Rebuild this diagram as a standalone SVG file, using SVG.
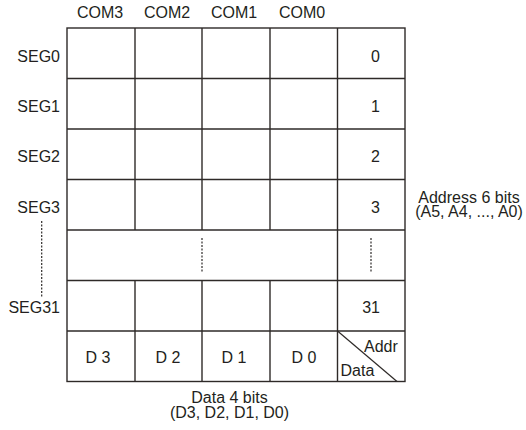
<svg xmlns="http://www.w3.org/2000/svg" width="526" height="430" viewBox="0 0 526 430">
<style>
text{font-family:"Liberation Sans",Arial,sans-serif;font-size:16px;fill:#231f20}
.c{text-anchor:middle}
.e{text-anchor:end}
.g{stroke:#2e2a28;stroke-width:1.4;fill:none}
.d{stroke:#2e2a28;stroke-width:1.2;stroke-dasharray:2 1.5;fill:none}
</style>
<rect width="526" height="430" fill="#fff"/>
<g id="com-labels">
<text class="c" x="100" y="18">COM3</text>
<text class="c" x="167" y="18">COM2</text>
<text class="c" x="234" y="18">COM1</text>
<text class="c" x="302" y="18">COM0</text>
</g>
<g id="seg-labels">
<text class="e" x="60" y="61.5">SEG0</text>
<text class="e" x="60" y="112">SEG1</text>
<text class="e" x="60" y="162">SEG2</text>
<text class="e" x="60" y="212.7">SEG3</text>
<text class="e" x="60" y="313.3">SEG31</text>
<line class="d" x1="41.7" y1="221" x2="41.7" y2="297"/>
</g>
<g id="grid">
<rect class="g" x="67" y="28" width="338" height="353.5"/>
<line class="g" x1="67" y1="78.5" x2="405" y2="78.5"/>
<line class="g" x1="67" y1="129" x2="405" y2="129"/>
<line class="g" x1="67" y1="179.5" x2="405" y2="179.5"/>
<line class="g" x1="67" y1="230" x2="405" y2="230"/>
<line class="g" x1="67" y1="280.5" x2="405" y2="280.5"/>
<line class="g" x1="67" y1="331" x2="405" y2="331"/>
<line class="g" x1="135" y1="28" x2="135" y2="230"/>
<line class="g" x1="202" y1="28" x2="202" y2="230"/>
<line class="g" x1="270" y1="28" x2="270" y2="230"/>
<line class="g" x1="135" y1="280.5" x2="135" y2="381.5"/>
<line class="g" x1="202" y1="280.5" x2="202" y2="381.5"/>
<line class="g" x1="270" y1="280.5" x2="270" y2="381.5"/>
<line class="g" x1="337.5" y1="28" x2="337.5" y2="381.5"/>
<line class="d" x1="202" y1="238" x2="202" y2="273"/>
</g>
<g id="addresses">
<text class="e" x="380" y="61.5">0</text>
<text class="e" x="380" y="112">1</text>
<text class="e" x="380" y="162">2</text>
<text class="e" x="380" y="212.7">3</text>
<line class="d" x1="371" y1="238" x2="371" y2="273"/>
<text class="e" x="380" y="313.3">31</text>
</g>
<g id="data-row">
<text class="c" x="98" y="363.3">D 3</text>
<text class="c" x="168" y="363.3">D 2</text>
<text class="c" x="234" y="363.3">D 1</text>
<text class="c" x="304" y="363.3">D 0</text>
</g>
<g id="corner">
<line x1="337.5" y1="331" x2="397" y2="381.5" stroke="#2e2a28" stroke-width="1.2"/>
<text x="364" y="351.7">Addr</text>
<text x="340.5" y="375.7">Data</text>
</g>
<g id="address-note">
<text class="c" x="469" y="202.5">Address 6 bits</text>
<text class="c" x="469" y="217">(A5, A4, ..., A0)</text>
</g>
<g id="data-note">
<text class="c" x="229.5" y="403.3">Data 4 bits</text>
<text class="c" x="229.5" y="417.8">(D3, D2, D1, D0)</text>
</g>
</svg>
